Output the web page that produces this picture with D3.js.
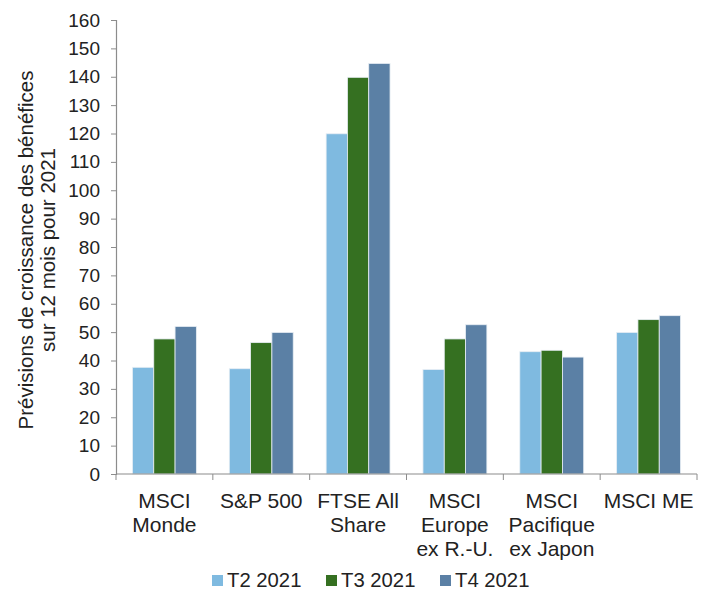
<!DOCTYPE html>
<html>
<head>
<meta charset="utf-8">
<script src="https://cdn.jsdelivr.net/npm/d3@7"></script>
<style>
  body { margin: 0; background: #fff; }
  svg text { font-family: "Liberation Sans", Arial, sans-serif; fill: #222; }
</style>
</head>
<body>
<div id="chart"></div>
<script>
// categories (multi-line labels)
const categories = [
    ['MSCI', 'Monde'],
    ['S&P 500'],
    ['FTSE All', 'Share'],
    ['MSCI', 'Europe', 'ex R.-U.'],
    ['MSCI', 'Pacifique', 'ex Japon'],
    ['MSCI ME']
];
const seriesNames = ['T2 2021', 'T3 2021', 'T4 2021'];
const t2Values = [37.6, 37.1, 119.9, 36.8, 43.1, 49.9];
const t3Values = [47.6, 46.3, 139.8, 47.6, 43.6, 54.4];
const t4Values = [52.0, 49.9, 144.7, 52.6, 41.2, 55.8];
const yTicks = [0, 10, 20, 30, 40, 50, 60, 70, 80, 90, 100, 110, 120, 130, 140, 150, 160];
const colors = ['#7fbae0', '#357021', '#5b80a5'];

const width = 702, height = 590;
const margin = { top: 20, right: 5, bottom: 116, left: 116 };
const innerW = width - margin.left - margin.right;
const innerH = height - margin.top - margin.bottom;

const svg = d3.select('#chart')
    .append('svg')
    .attr('width', width)
    .attr('height', height);

const g = svg.append('g')
    .attr('transform', `translate(${margin.left},${margin.top})`);

const x0 = d3.scaleBand()
    .domain(d3.range(categories.length))
    .range([0, innerW])
    .padding(0);

const x1 = d3.scaleBand()
    .domain(seriesNames)
    .range([x0.bandwidth() * 0.17, x0.bandwidth() * 0.83])
    .padding(0);

const y = d3.scaleLinear()
    .domain([0, 160])
    .range([innerH, 0]);

const allSeries = [t2Values, t3Values, t4Values];

// bars
seriesNames.forEach((name, si) => {
    g.selectAll('.bar-' + si)
        .data(allSeries[si])
        .enter()
        .append('rect')
        .attr('x', (d, i) => x0(i) + x1(name))
        .attr('y', d => y(d))
        .attr('width', x1.bandwidth())
        .attr('height', d => innerH - y(d))
        .attr('fill', colors[si])
        .attr('stroke', '#e8eef4')
        .attr('stroke-width', 0.8);
});

// y axis
const yAxis = g.append('g')
    .call(d3.axisLeft(y).tickValues(yTicks).tickSize(5).tickPadding(11));
yAxis.select('.domain').attr('stroke', '#8c8c8c').attr('stroke-width', 1.2);
yAxis.selectAll('.tick line').attr('stroke', '#8c8c8c');
yAxis.selectAll('.tick text')
    .style('font-size', '19px')
    .attr('fill', '#222');

// x axis line + boundary ticks
g.append('line')
    .attr('x1', 0).attr('x2', innerW)
    .attr('y1', innerH).attr('y2', innerH)
    .attr('stroke', '#8c8c8c').attr('stroke-width', 1.2);

d3.range(categories.length + 1).forEach(i => {
    const xp = i < categories.length ? x0(i) : innerW;
    g.append('line')
        .attr('x1', xp).attr('x2', xp)
        .attr('y1', innerH).attr('y2', innerH + 6)
        .attr('stroke', '#8c8c8c');
});

// category labels
categories.forEach((lines, i) => {
    const t = g.append('text')
        .attr('x', x0(i) + x0.bandwidth() / 2)
        .attr('y', innerH + 33.5)
        .attr('text-anchor', 'middle')
        .style('font-size', '21px');
    lines.forEach((ln, k) => {
        t.append('tspan')
            .attr('x', x0(i) + x0.bandwidth() / 2)
            .attr('dy', k === 0 ? 0 : 24.4)
            .text(ln);
    });
});

// y axis title
const title = svg.append('text')
    .attr('transform', 'translate(33,250) rotate(-90)')
    .attr('text-anchor', 'middle')
    .style('font-size', '20.5px');
title.append('tspan').attr('x', 0).attr('dy', 0).text('Prévisions de croissance des bénéfices');
title.append('tspan').attr('x', 0).attr('dy', 22).text('sur 12 mois pour 2021');

// legend
const legendX = [212, 326, 440];
const legend = svg.append('g');
seriesNames.forEach((name, si) => {
    legend.append('rect')
        .attr('x', legendX[si])
        .attr('y', 575)
        .attr('width', 11)
        .attr('height', 11)
        .attr('fill', colors[si]);
    legend.append('text')
        .attr('x', legendX[si] + 15)
        .attr('y', 586.5)
        .style('font-size', '20.3px')
        .text(name);
});
</script>
</body>
</html>
